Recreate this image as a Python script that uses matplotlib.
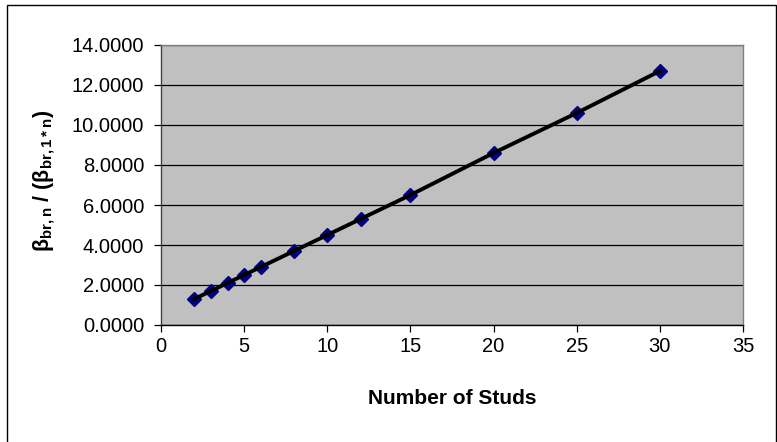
import matplotlib
matplotlib.use("Agg")
import matplotlib.pyplot as plt
from matplotlib.patches import Rectangle
from matplotlib.ticker import FormatStrFormatter

# data
studs = [2, 3, 4, 5, 6, 8, 10, 12, 15, 20, 25, 30]
ratio = [1.30, 1.70, 2.10, 2.50, 2.90, 3.70, 4.50, 5.30, 6.50, 8.60, 10.60, 12.70]
x_ticks = [0, 5, 10, 15, 20, 25, 30, 35]
y_ticks = [0, 2, 4, 6, 8, 10, 12, 14]

plt.rcParams["font.family"] = ["Liberation Sans", "DejaVu Sans"]
plt.rcParams["mathtext.fontset"] = "custom"
plt.rcParams["mathtext.rm"] = "Liberation Sans:bold"
plt.rcParams["mathtext.it"] = "Liberation Sans:bold"
plt.rcParams["mathtext.bf"] = "Liberation Sans:bold"

fig = plt.figure(figsize=(7.77, 4.42), dpi=100)
ax = fig.add_axes([161 / 777, 1 - 325 / 442, 582 / 777, 280 / 442])
ax.set_facecolor("#c0c0c0")

# outer chart border
fig.patches.append(Rectangle((7 / 777, -0.01), 769 / 777, 1.01 - 5 / 442,
                             transform=fig.transFigure, fill=False,
                             edgecolor="black", linewidth=1.0))

ax.plot(studs, ratio, linestyle="none", marker="D", markersize=7.5,
        color="#000080", zorder=3)
ax.plot(studs, ratio, color="black", linewidth=2.8, zorder=4)

ax.set_xlim(0, 35)
ax.set_ylim(0, 14)
ax.set_xticks(x_ticks)
ax.set_yticks(y_ticks)
ax.yaxis.set_major_formatter(FormatStrFormatter("%.4f"))
ax.grid(axis="y", color="black", linewidth=0.9, zorder=1)
ax.set_axisbelow(True)

ax.tick_params(direction="out", length=5, width=0.9, labelsize=14.5, colors="black")
ax.tick_params(axis="y", pad=7)
ax.tick_params(axis="x", pad=4)

ax.spines["top"].set_color("#808080")
ax.spines["right"].set_color("#808080")
ax.spines["left"].set_color("#404040")
ax.spines["bottom"].set_color("black")
for s in ax.spines.values():
    s.set_linewidth(1.0)

ax.set_xlabel("Number of Studs", fontsize=15, fontweight="bold")
ax.xaxis.set_label_coords(0.5, -0.23)
ax.set_ylabel(r"$\beta_{br,n}$ / ($\beta_{br,1*n}$)", fontsize=15.5, fontweight="bold")
ax.yaxis.set_label_coords(-0.178, 0.515)

fig.savefig("out.png", dpi=100)
